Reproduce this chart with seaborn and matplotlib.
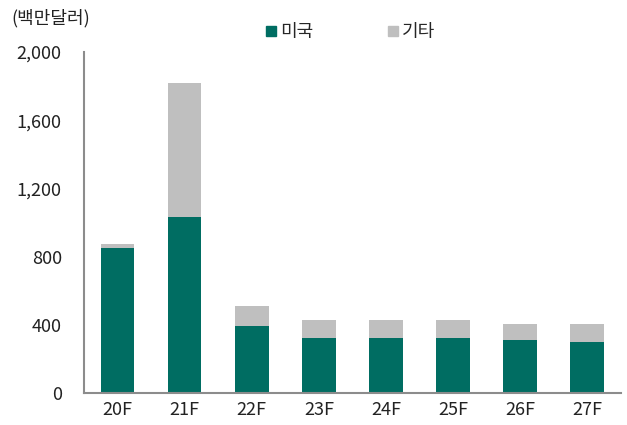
import pandas as pd
import matplotlib.pyplot as plt
import seaborn as sns
from matplotlib.lines import Line2D

years = ["20F", "21F", "22F", "23F", "24F", "25F", "26F", "27F"]
usa = [850, 1035, 395, 320, 320, 320, 310, 298]
other = [25, 782, 115, 106, 106, 106, 95, 107]
y_ticks = [0, 400, 800, 1200, 1600, 2000]

teal = "#006D62"
gray = "#BFBFBF"
axis_gray = "#8C8C8C"

df = pd.DataFrame({"year": years, "usa": usa, "other": other})
df["total"] = df["usa"] + df["other"]

sns.set_style("white")
plt.rcParams["font.family"] = ["Noto Sans CJK KR", "DejaVu Sans"]

fig = plt.figure(figsize=(6.27, 4.25), dpi=100)
ax = fig.add_axes([0.134, 0.0753, 0.856, 0.8024])

# stacked bars: total first (gray), then US on top of it
sns.barplot(data=df, x="year", y="total", color=gray, width=0.5,
            saturation=1, ax=ax, edgecolor="none")
sns.barplot(data=df, x="year", y="usa", color=teal, width=0.5,
            saturation=1, ax=ax, edgecolor="none")

ax.set_xlim(-0.5, len(years) - 0.5)
ax.set_ylim(0, 2000)
ax.set_yticks(y_ticks)
ax.set_yticklabels([f"{v:,}" for v in y_ticks], fontsize=13, color="#222222")
ax.set_xticks(range(len(years)))
ax.set_xticklabels(years, fontsize=13, color="#222222")
ax.set_xlabel("")
ax.set_ylabel("")

# x ticks sit between categories
ax.set_xticks([i - 0.5 for i in range(len(years) + 1)], minor=True)
ax.tick_params(axis="x", which="major", length=0, pad=6)
ax.tick_params(axis="x", which="minor", length=5, width=1.2, color=axis_gray, direction="out")
ax.tick_params(axis="y", length=3, width=1.2, color=axis_gray, direction="out", pad=13)

for side in ["top", "right"]:
    ax.spines[side].set_visible(False)
for side in ["left", "bottom"]:
    ax.spines[side].set_color(axis_gray)
    ax.spines[side].set_linewidth(1.5)

handles = [
    Line2D([], [], marker="s", linestyle="none", color=teal, markersize=7),
    Line2D([], [], marker="s", linestyle="none", color=gray, markersize=7),
]
fig.legend(handles, ["미국", "기타"], loc="center", bbox_to_anchor=(0.557, 0.925),
           ncol=2, frameon=False, fontsize=13, handletextpad=0.1,
           columnspacing=4.0, handlelength=0.8)

fig.text(0.018, 0.957, "(백만달러)", fontsize=13, color="#222222", va="center")

plt.savefig("out.png", dpi=100)
